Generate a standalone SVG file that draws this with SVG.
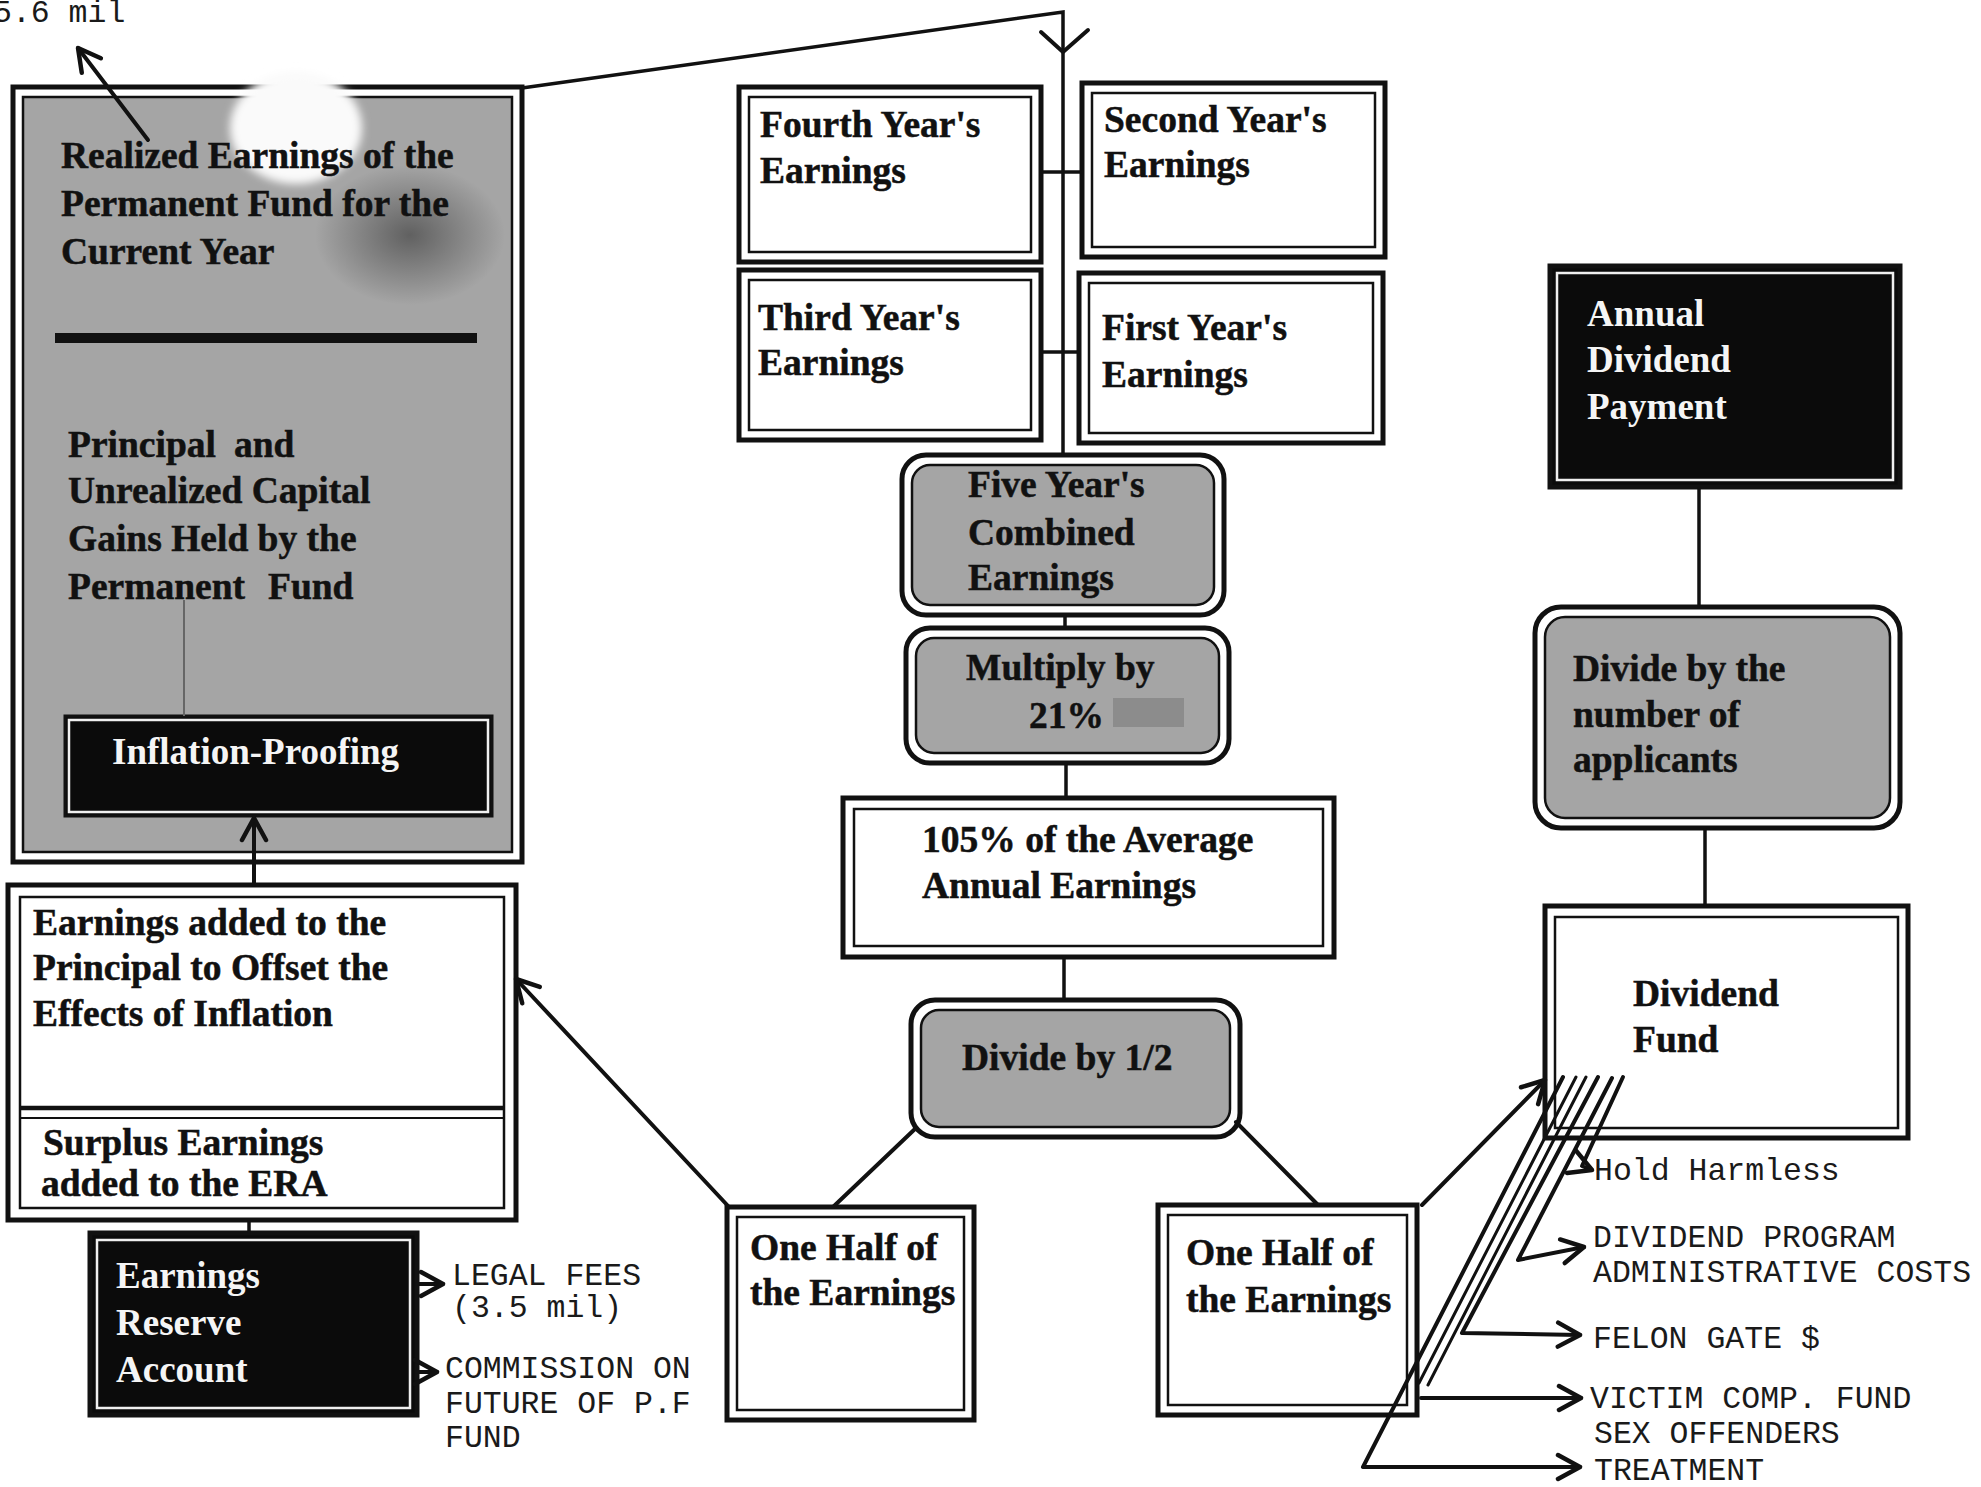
<svg xmlns="http://www.w3.org/2000/svg" width="1981" height="1487" viewBox="0 0 1981 1487">
<defs>
<style>
.ob{fill:#fff;stroke:#111;stroke-width:5}
.ib{fill:none;stroke:#111;stroke-width:2.5}
.gb{fill:#a5a5a5;stroke:#111;stroke-width:2.5}
.bk{fill:#0b0b0b;stroke:#111;stroke-width:5}
.wl{fill:none;stroke:#f0f0f0;stroke-width:2.5}
.t{font-family:"Liberation Serif","Times New Roman",serif;font-weight:bold;font-size:37.5px;fill:#111;stroke:#111;stroke-width:0.5}
.tw{font-family:"Liberation Serif","Times New Roman",serif;font-weight:bold;font-size:37px;fill:#f5f5f5}
.m{font-family:"Liberation Mono","Courier New",monospace;font-size:31.5px;fill:#1a1a1a}
.c{fill:none;stroke:#111;stroke-width:4;stroke-linecap:round;stroke-linejoin:round}
.cs{fill:none;stroke:#111;stroke-width:3.5}
</style>
<marker id="ah" markerUnits="userSpaceOnUse" viewBox="0 0 30 30" markerWidth="30" markerHeight="30" refX="27" refY="15" orient="auto">
<path d="M5,3 L27,15 L5,27" fill="none" stroke="#111" stroke-width="4.5" stroke-linecap="round" stroke-linejoin="round"/>
</marker>
<radialGradient id="smudge">
<stop offset="0" stop-color="#333" stop-opacity="0.6"/>
<stop offset="1" stop-color="#333" stop-opacity="0"/>
</radialGradient>
<filter id="soft" x="-20%" y="-20%" width="140%" height="140%">
<feGaussianBlur stdDeviation="4"/>
</filter>
</defs>
<rect x="0" y="0" width="1981" height="1487" fill="#fff"/>

<g id="permanent-fund">
<rect class="ob" x="13" y="87" width="509" height="775"/>
<rect class="gb" x="23" y="97" width="489" height="755"/>
<ellipse cx="410" cy="235" rx="95" ry="70" fill="url(#smudge)"/>
<rect x="55" y="333" width="422" height="10" fill="#111"/>
<ellipse cx="296" cy="128" rx="66" ry="56" fill="#fafafa" filter="url(#soft)"/>
<text class="t" x="61" y="168">Realized Earnings of the</text>
<text class="t" x="61" y="216">Permanent Fund for the</text>
<text class="t" x="61" y="264">Current Year</text>
<text class="t" x="68" y="457">Principal<tspan x="234">and</tspan></text>
<text class="t" x="68" y="503">Unrealized Capital</text>
<text class="t" x="68" y="551">Gains Held by the</text>
<text class="t" x="68" y="599">Permanent<tspan x="268">Fund</tspan></text>
</g>

<g id="inflation-proofing">
<rect class="bk" x="65" y="716" width="427" height="100" style="stroke-width:3"/>
<rect class="wl" x="69" y="720" width="419" height="92"/>
<text class="tw" x="112" y="764">Inflation-Proofing</text>
</g>

<g id="earnings-added">
<rect class="ob" x="8" y="885" width="508" height="335"/>
<rect class="ib" x="20" y="897" width="484" height="311"/>
<line x1="20" y1="1108" x2="504" y2="1108" stroke="#111" stroke-width="4.5"/>
<line x1="20" y1="1118" x2="504" y2="1118" stroke="#111" stroke-width="2"/>
<text class="t" x="33" y="935">Earnings added to the</text>
<text class="t" x="33" y="980">Principal to Offset the</text>
<text class="t" x="33" y="1026">Effects of Inflation</text>
<text class="t" x="43" y="1155">Surplus Earnings</text>
<text class="t" x="41" y="1196">added to the ERA</text>
</g>

<g id="earnings-reserve">
<rect class="bk" x="90" y="1233" width="327" height="182"/>
<rect class="wl" x="97" y="1240" width="313" height="168"/>
<text class="tw" x="116" y="1288">Earnings</text>
<text class="tw" x="116" y="1335">Reserve</text>
<text class="tw" x="116" y="1382">Account</text>
</g>

<g id="fourth-year">
<rect class="ob" x="739" y="87" width="302" height="175"/>
<rect class="ib" x="749" y="97" width="282" height="155"/>
<text class="t" x="760" y="137">Fourth Year's</text>
<text class="t" x="760" y="183">Earnings</text>
</g>
<g id="second-year">
<rect class="ob" x="1082" y="83" width="303" height="174"/>
<rect class="ib" x="1092" y="93" width="283" height="154"/>
<text class="t" x="1104" y="132">Second Year's</text>
<text class="t" x="1104" y="177">Earnings</text>
</g>
<g id="third-year">
<rect class="ob" x="739" y="270" width="302" height="170"/>
<rect class="ib" x="749" y="280" width="282" height="150"/>
<text class="t" x="758" y="330">Third Year's</text>
<text class="t" x="758" y="375">Earnings</text>
</g>
<g id="first-year">
<rect class="ob" x="1079" y="273" width="304" height="170"/>
<rect class="ib" x="1089" y="283" width="284" height="150"/>
<text class="t" x="1102" y="340">First Year's</text>
<text class="t" x="1102" y="387">Earnings</text>
</g>

<g id="five-year">
<rect class="ob" x="902" y="455" width="322" height="160" rx="24"/>
<rect class="gb" x="912" y="465" width="302" height="140" rx="18"/>
<text class="t" x="968" y="497">Five Year's</text>
<text class="t" x="968" y="545">Combined</text>
<text class="t" x="968" y="590">Earnings</text>
</g>

<g id="multiply">
<rect class="ob" x="906" y="628" width="323" height="135" rx="24"/>
<rect class="gb" x="916" y="638" width="303" height="115" rx="18"/>
<rect x="1113" y="698" width="71" height="29" fill="#8c8c8c"/>
<text class="t" x="966" y="680">Multiply by</text>
<text class="t" x="1029" y="728">21%</text>
</g>

<g id="average">
<rect class="ob" x="843" y="798" width="491" height="159"/>
<rect class="ib" x="854" y="809" width="469" height="137"/>
<text class="t" x="922" y="852">105% of the Average</text>
<text class="t" x="922" y="898">Annual Earnings</text>
</g>

<g id="divide-half">
<rect class="ob" x="911" y="1000" width="329" height="137" rx="24"/>
<rect class="gb" x="921" y="1010" width="309" height="117" rx="18"/>
<text class="t" x="962" y="1070">Divide by 1/2</text>
</g>

<g id="half-left">
<rect class="ob" x="727" y="1207" width="247" height="213"/>
<rect class="ib" x="737" y="1217" width="227" height="193"/>
<text class="t" x="750" y="1260">One Half of</text>
<text class="t" x="750" y="1305">the Earnings</text>
</g>

<g id="half-right">
<rect class="ob" x="1158" y="1205" width="259" height="210"/>
<rect class="ib" x="1168" y="1215" width="239" height="190"/>
<text class="t" x="1186" y="1265">One Half of</text>
<text class="t" x="1186" y="1312">the Earnings</text>
</g>

<g id="annual-dividend">
<rect class="bk" x="1550" y="266" width="350" height="221"/>
<rect class="wl" x="1557" y="273" width="336" height="207"/>
<text class="tw" x="1587" y="326">Annual</text>
<text class="tw" x="1587" y="372">Dividend</text>
<text class="tw" x="1587" y="419">Payment</text>
</g>

<g id="divide-applicants">
<rect class="ob" x="1535" y="607" width="365" height="221" rx="26"/>
<rect class="gb" x="1545" y="617" width="345" height="201" rx="20"/>
<text class="t" x="1573" y="681">Divide by the</text>
<text class="t" x="1573" y="727">number of</text>
<text class="t" x="1573" y="772">applicants</text>
</g>

<g id="dividend-fund">
<rect class="ob" x="1545" y="906" width="363" height="232"/>
<rect class="ib" x="1555" y="917" width="343" height="211"/>
<text class="t" x="1633" y="1006">Dividend</text>
<text class="t" x="1633" y="1052">Fund</text>
</g>

<g id="labels">
<text class="m" x="-7" y="22">5.6 mil</text>
<text class="m" x="452" y="1285">LEGAL FEES</text>
<text class="m" x="452" y="1317">(3.5 mil)</text>
<text class="m" x="445" y="1378">COMMISSION ON</text>
<text class="m" x="445" y="1413">FUTURE OF P.F</text>
<text class="m" x="445" y="1447">FUND</text>
<text class="m" x="1594" y="1180">Hold Harmless</text>
<text class="m" x="1593" y="1247">DIVIDEND PROGRAM</text>
<text class="m" x="1593" y="1282">ADMINISTRATIVE COSTS</text>
<text class="m" x="1593" y="1348">FELON GATE $</text>
<text class="m" x="1590" y="1408">VICTIM COMP. FUND</text>
<text class="m" x="1594" y="1443">SEX OFFENDERS</text>
<text class="m" x="1594" y="1480">TREATMENT</text>
</g>

<g id="connectors">
<path class="c" d="M148,140 L78,48" marker-end="url(#ah)"/>
<path class="cs" d="M522,88 L1063,12 L1063,455"/>
<path class="c" d="M1041,32 L1063,52 L1088,30"/>
<path class="cs" d="M1041,172 L1082,172"/>
<path class="cs" d="M1041,352 L1079,352"/>
<path class="cs" d="M1065,615 L1065,628"/>
<path class="cs" d="M1066,763 L1066,798"/>
<path class="cs" d="M1064,957 L1064,1000"/>
<path class="c" d="M916,1128 L833,1207"/>
<path class="c" d="M1236,1122 L1318,1205"/>
<path class="c" d="M729,1207 L516,979" marker-end="url(#ah)"/>
<path class="c" d="M1422,1205 L1545,1080" marker-end="url(#ah)"/>
<path class="c" d="M254,885 L254,818" marker-end="url(#ah)"/>
<path fill="none" stroke="#666" stroke-width="2" d="M184,600 L184,716"/>
<path class="cs" d="M249,1220 L249,1233"/>
<path class="c" d="M417,1284 L443,1284" marker-end="url(#ah)"/>
<path class="c" d="M417,1372 L437,1372" marker-end="url(#ah)"/>
<path class="cs" d="M1699,487 L1699,607"/>
<path class="cs" d="M1705,828 L1705,906"/>
<path class="c" d="M1563,1077 L1363,1467 L1580,1467" marker-end="url(#ah)"/>
<path class="c" style="stroke-width:3" d="M1576,1077 L1419,1383"/>
<path class="c" style="stroke-width:3" d="M1586,1077 L1428,1385"/>
<path class="c" d="M1421,1398 L1581,1398" marker-end="url(#ah)"/>
<path class="c" d="M1598,1077 L1462,1333 L1580,1335" marker-end="url(#ah)"/>
<path class="c" d="M1612,1078 L1518,1260 L1584,1247" marker-end="url(#ah)"/>
<path class="c" d="M1623,1077 L1582,1166 L1592,1170" marker-end="url(#ah)"/>
</g>
</svg>
